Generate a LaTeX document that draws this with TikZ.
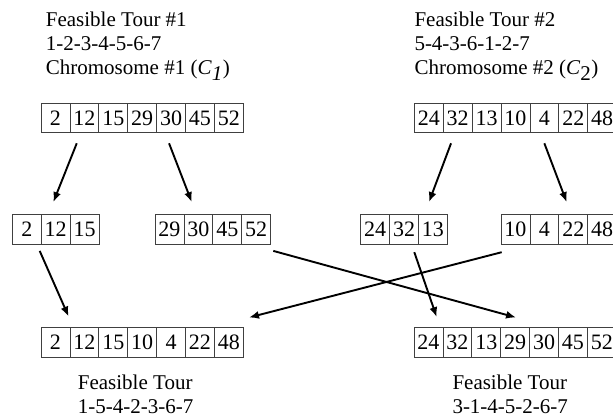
\documentclass[tikz,border=0pt]{standalone}
\usepackage{fontspec}
\setmainfont{Liberation Serif}
\usepackage{tikz}
\usetikzlibrary{arrows.meta, positioning, calc}
\newcommand{\tourfont}{\fontsize{21}{24}\selectfont}
\newcommand{\genefont}{\fontsize{22}{24}\selectfont}
% one row of genes: name prefix, left x, centre y, values
\newcommand{\generow}[4]{%
  \foreach \v [count=\i] in {#4}
    \node[gene] (#1\i) at ({#2+28.9*\i-14.45},{#3}) {\v};}

\begin{document}
\begin{tikzpicture}[x=1pt, y=-1pt,
  >={Latex[length=10pt,width=8pt]},
  gene/.style={draw=black!75, line width=0.8pt, minimum width=28.9pt, minimum height=29.4pt,
               inner sep=0pt, outer sep=0pt, font=\genefont},
  arr/.style={->, line width=1.9pt},
  lbl/.style={align=left, anchor=north west, inner sep=0pt, font=\tourfont}]
  \clip (0,0) rectangle (613,417);

  % parents
  \node[lbl] (tourA) at (45.7,11.4) {Feasible Tour \#1\\ 1-2-3-4-5-6-7\\ Chromosome \#1 (\textit{C}$_{\textit{1}}$)};
  \node[lbl] (tourB) at (414.3,11.4) {Feasible Tour \#2\\ 5-4-3-6-1-2-7\\ Chromosome \#2 (\textit{C}$_{\textrm{2}}$)};
  \generow{ca}{41}{118}{2,12,15,29,30,45,52}
  \generow{cb}{414.3}{118}{24,32,13,10,4,22,48}

  % cut pieces
  \generow{pa}{12.3}{229.5}{2,12,15}
  \generow{pb}{155}{229.5}{29,30,45,52}
  \generow{qa}{360.7}{229.5}{24,32,13}
  \generow{qb}{501}{229.5}{10,4,22,48}

  % offspring
  \generow{oa}{41}{342.2}{2,12,15,10,4,22,48}
  \generow{ob}{414}{342.2}{24,32,13,29,30,45,52}
  \node[lbl] (childA) at (77.7,375) {Feasible Tour\\ 1-5-4-2-3-6-7};
  \node[lbl] (childB) at (452.3,375) {Feasible Tour\\ 3-1-4-5-2-6-7};

  \draw[arr] ([xshift=-7.6pt,yshift=-10.6pt]ca2.south) -- ([xshift=-2.3pt,yshift=12.7pt]pa2.north);
  \draw[arr] ([xshift=-2pt,yshift=-10.6pt]ca5.south) -- ([xshift=-6.6pt,yshift=12.7pt]pb2.north);
  \draw[arr] ([xshift=-6.6pt,yshift=-10.6pt]cb2.south) -- ([xshift=-4pt,yshift=12.7pt]qa3.north);
  \draw[arr] ([yshift=-10.6pt]cb5.south) -- ([xshift=-6.6pt,yshift=12.7pt]qb3.north);
  \draw[arr] ([xshift=-1.5pt,yshift=-6.7pt]pa2.south west) -- ([xshift=-1.3pt,yshift=11pt]oa1.north east);
  \draw[arr] ([xshift=2.7pt,yshift=-6.7pt]pb4.south east) -- ([xshift=0.9pt,yshift=10pt]ob4.north);
  \draw[arr] ([xshift=0.7pt,yshift=-8pt]qb1.south west) -- ([xshift=5.7pt,yshift=10pt]oa7.north east);
  \draw[arr] ([xshift=-4.2pt,yshift=-8pt]qa3.south west) -- ([xshift=-6.2pt,yshift=10.4pt]ob1.north east);
\end{tikzpicture}
\end{document}
